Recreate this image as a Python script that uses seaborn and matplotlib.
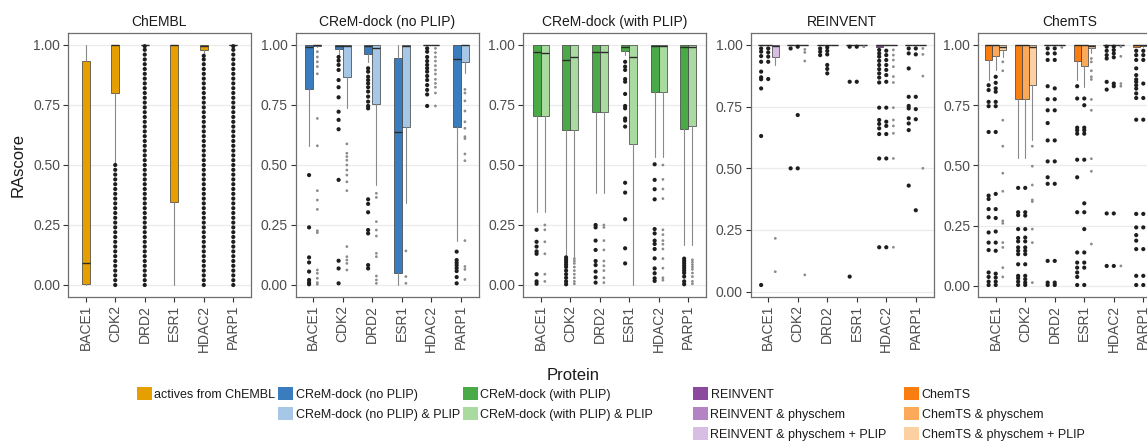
import matplotlib
matplotlib.use("Agg")
import matplotlib.pyplot as plt
import matplotlib.ticker as mticker
import pandas as pd
import seaborn as sns
from matplotlib.patches import Patch

proteins = ["BACE1", "CDK2", "DRD2", "ESR1", "HDAC2", "PARP1"]

# box stats per protein: (whisker low, q1, median, q3, whisker high)
chembl_box = [
    (0.0, 0.003, 0.09, 0.933, 1.0),
    (0.51, 0.80, 1.0, 1.0, 1.0),
    (1.0, 1.0, 1.0, 1.0, 1.0),
    (0.0, 0.344, 1.0, 1.0, 1.0),
    (0.965, 0.979, 0.997, 1.0, 1.0),
    (1.0, 1.0, 1.0, 1.0, 1.0),
]
chembl_out = [
    [],
    [0.00, 0.02, 0.04, 0.06, 0.08, 0.10, 0.12, 0.14, 0.16, 0.18, 0.20, 0.22, 0.24,
     0.26, 0.28, 0.30, 0.32, 0.34, 0.36, 0.38, 0.40, 0.42, 0.44, 0.46, 0.48, 0.50],
    [0.00, 0.02, 0.04, 0.06, 0.08, 0.10, 0.12, 0.14, 0.16, 0.18, 0.20, 0.22, 0.24,
     0.26, 0.28, 0.30, 0.32, 0.34, 0.36, 0.38, 0.40, 0.42, 0.44, 0.46, 0.48, 0.50,
     0.52, 0.54, 0.56, 0.58, 0.60, 0.62, 0.64, 0.66, 0.68, 0.70, 0.72, 0.74, 0.76,
     0.78, 0.80, 0.82, 0.84, 0.86, 0.88, 0.90, 0.92, 0.94, 0.96, 0.98, 0.995],
    [],
    [0.00, 0.02, 0.04, 0.06, 0.08, 0.10, 0.12, 0.14, 0.16, 0.18, 0.20, 0.22, 0.24,
     0.26, 0.28, 0.30, 0.32, 0.34, 0.36, 0.38, 0.40, 0.42, 0.44, 0.46, 0.48, 0.50,
     0.52, 0.54, 0.56, 0.58, 0.60, 0.62, 0.64, 0.66, 0.68, 0.70, 0.72, 0.74, 0.76,
     0.78, 0.80, 0.82, 0.84, 0.86, 0.88, 0.90, 0.92, 0.94, 0.955],
    [0.00, 0.02, 0.04, 0.06, 0.08, 0.10, 0.12, 0.14, 0.16, 0.18, 0.20, 0.22, 0.24,
     0.26, 0.28, 0.30, 0.32, 0.34, 0.36, 0.38, 0.40, 0.42, 0.44, 0.46, 0.48, 0.50,
     0.52, 0.54, 0.56, 0.58, 0.60, 0.62, 0.64, 0.66, 0.68, 0.70, 0.72, 0.74, 0.76,
     0.78, 0.80, 0.82, 0.84, 0.86, 0.88, 0.90, 0.92, 0.94, 0.96, 0.98, 0.995],
]

crem_nop_box = [
    (0.58, 0.815, 0.99, 1.0, 1.0),
    (0.958, 0.982, 0.997, 1.0, 1.0),
    (0.93, 0.962, 0.997, 1.0, 1.0),
    (0.0, 0.051, 0.636, 0.947, 1.0),
    (1.0, 1.0, 1.0, 1.0, 1.0),
    (0.185, 0.657, 0.94, 1.0, 1.0),
]
crem_nop_out = [
    [0.458, 0.24, 0.115, 0.094, 0.056, 0.021, 0.01, 0.003],
    [0.95, 0.935, 0.917, 0.896, 0.854, 0.824, 0.782, 0.722, 0.688, 0.649, 0.438, 0.101, 0.069, 0.007],
    [0.903, 0.889, 0.868, 0.854, 0.84, 0.824, 0.806, 0.785, 0.764, 0.746, 0.736, 0.357, 0.338,
     0.303, 0.229, 0.215, 0.083, 0.069],
    [],
    [0.986, 0.972, 0.95, 0.933, 0.917, 0.903, 0.889, 0.871, 0.854, 0.833, 0.813, 0.794, 0.746],
    [0.139, 0.104, 0.093, 0.082, 0.07, 0.058, 0.033, 0.007],
]
crem_nop_plip_box = [
    (0.99, 0.995, 1.0, 1.0, 1.0),
    (0.736, 0.868, 0.997, 1.0, 1.0),
    (0.417, 0.754, 0.986, 1.0, 1.0),
    (0.34, 0.66, 0.997, 1.0, 1.0),
    (1.0, 1.0, 1.0, 1.0, 1.0),
    (0.882, 0.928, 1.0, 1.0, 1.0),
]
crem_nop_plip_out = [
    [0.972, 0.95, 0.93, 0.91, 0.88, 0.694, 0.58, 0.393, 0.354, 0.315, 0.226, 0.218, 0.0625,
     0.049, 0.028, 0.01, 0.003],
    [0.588, 0.549, 0.535, 0.52, 0.5, 0.479, 0.458, 0.43, 0.393, 0.16, 0.118, 0.104, 0.09, 0.0625],
    [0.382, 0.365, 0.264, 0.229, 0.204, 0.132, 0.118, 0.0375, 0.021, 0.007],
    [0.142, 0.035, 0.007],
    [0.986, 0.968, 0.95, 0.933, 0.914, 0.896, 0.879, 0.857, 0.84, 0.824, 0.8, 0.746],
    [0.815, 0.8, 0.767, 0.725, 0.68, 0.653, 0.618, 0.61, 0.546, 0.518, 0.185, 0.077, 0.065, 0.023],
]

crem_wp_box = [
    (0.303, 0.704, 0.969, 1.0, 1.0),
    (0.118, 0.646, 0.938, 1.0, 1.0),
    (0.382, 0.722, 0.969, 1.0, 1.0),
    (0.958, 0.976, 0.993, 1.0, 1.0),
    (0.535, 0.806, 0.997, 1.0, 1.0),
    (0.167, 0.648, 0.99, 1.0, 1.0),
]
crem_wp_out = [
    [0.23, 0.18, 0.16, 0.14, 0.13, 0.045, 0.015, 0.005],
    [0.115, 0.105, 0.095, 0.085, 0.075, 0.06, 0.045, 0.03, 0.015, 0.003],
    [0.25, 0.24, 0.185, 0.146, 0.10, 0.083, 0.056, 0.032, 0.01],
    [0.93, 0.91, 0.896, 0.858, 0.847, 0.796, 0.746, 0.736, 0.694, 0.685, 0.66, 0.426, 0.385,
     0.274, 0.153, 0.09],
    [0.503, 0.438, 0.399, 0.357, 0.233, 0.215, 0.185, 0.171, 0.15, 0.111, 0.069, 0.049, 0.028, 0.017],
    [0.11, 0.10, 0.09, 0.08, 0.07, 0.06, 0.05, 0.035, 0.015, 0.003],
]
crem_wp_plip_box = [
    (0.303, 0.704, 0.965, 1.0, 1.0),
    (0.118, 0.646, 0.949, 1.0, 1.0),
    (0.382, 0.722, 0.969, 1.0, 1.0),
    (0.0, 0.586, 0.951, 1.0, 1.0),
    (0.535, 0.806, 0.997, 1.0, 1.0),
    (0.167, 0.663, 0.993, 1.0, 1.0),
]
crem_wp_plip_out = [
    [0.25, 0.23, 0.18, 0.13, 0.045, 0.015],
    [0.11, 0.10, 0.09, 0.075, 0.06, 0.045, 0.03, 0.015, 0.005],
    [0.25, 0.24, 0.185, 0.146, 0.10, 0.08, 0.06, 0.03, 0.01],
    [],
    [0.50, 0.44, 0.40, 0.36, 0.23, 0.21, 0.185, 0.17, 0.15, 0.11, 0.07, 0.03, 0.02],
    [0.105, 0.095, 0.085, 0.075, 0.065, 0.05, 0.035, 0.015, 0.005],
]

reinvent_box = [
    (1.0, 1.0, 1.0, 1.0, 1.0),
    (1.0, 1.0, 1.0, 1.0, 1.0),
    (1.0, 1.0, 1.0, 1.0, 1.0),
    (1.0, 1.0, 1.0, 1.0, 1.0),
    (0.99, 0.99, 1.0, 1.0, 1.0),
    (1.0, 1.0, 1.0, 1.0, 1.0),
]
reinvent_out = [
    [0.986, 0.973, 0.955, 0.932, 0.892, 0.869, 0.861, 0.824, 0.631, 0.027],
    [0.986, 0.5],
    [0.986, 0.973, 0.959],
    [0.993, 0.851, 0.061],
    [0.98, 0.966, 0.953, 0.936, 0.919, 0.902, 0.885, 0.868, 0.848, 0.746, 0.696, 0.68, 0.662,
     0.639, 0.54, 0.18],
    [0.986, 0.966, 0.905, 0.79, 0.753, 0.743, 0.703, 0.682, 0.655, 0.43],
]
reinvent_phys_box = [
    (1.0, 1.0, 1.0, 1.0, 1.0),
    (1.0, 1.0, 1.0, 1.0, 1.0),
    (1.0, 1.0, 1.0, 1.0, 1.0),
    (1.0, 1.0, 1.0, 1.0, 1.0),
    (1.0, 1.0, 1.0, 1.0, 1.0),
    (1.0, 1.0, 1.0, 1.0, 1.0),
]
reinvent_phys_out = [
    [0.986, 0.97, 0.953, 0.932, 0.862],
    [0.993, 0.716, 0.5],
    [0.99, 0.976, 0.962, 0.919, 0.903, 0.885],
    [0.993, 0.851],
    [0.977, 0.959, 0.939, 0.919, 0.899, 0.878, 0.851, 0.746, 0.689, 0.672, 0.639, 0.54, 0.18],
    [0.986, 0.962, 0.79, 0.74, 0.699, 0.33],
]
reinvent_phys_plip_box = [
    (0.919, 0.953, 0.996, 1.0, 1.0),
    (1.0, 1.0, 1.0, 1.0, 1.0),
    (1.0, 1.0, 1.0, 1.0, 1.0),
    (1.0, 1.0, 1.0, 1.0, 1.0),
    (1.0, 1.0, 1.0, 1.0, 1.0),
    (1.0, 1.0, 1.0, 1.0, 1.0),
]
reinvent_phys_plip_out = [
    [0.216, 0.081],
    [0.982, 0.97, 0.935, 0.068],
    [],
    [0.993],
    [0.98, 0.959, 0.939, 0.912, 0.872, 0.848, 0.746, 0.696, 0.672, 0.642, 0.54, 0.18],
    [0.986, 0.962, 0.874, 0.5],
]

chemts_box = [
    (0.854, 0.938, 1.0, 1.0, 1.0),
    (0.532, 0.774, 1.0, 1.0, 1.0),
    (1.0, 1.0, 1.0, 1.0, 1.0),
    (0.854, 0.933, 1.0, 1.0, 1.0),
    (1.0, 1.0, 1.0, 1.0, 1.0),
    (0.99, 0.993, 1.0, 1.0, 1.0),
]
chemts_out = [
    [0.833, 0.813, 0.764, 0.746, 0.639, 0.375, 0.361, 0.319, 0.285, 0.222, 0.18, 0.149, 0.056,
     0.0375, 0.018, 0.004],
    [0.407, 0.306, 0.294, 0.236, 0.199, 0.185, 0.16, 0.146, 0.132, 0.09, 0.042, 0.032, 0.018, 0.004],
    [0.986, 0.965, 0.938, 0.829, 0.775, 0.729, 0.676, 0.604, 0.517, 0.451, 0.424, 0.104, 0.014, 0.004],
    [0.829, 0.778, 0.657, 0.646, 0.632, 0.524, 0.451, 0.306, 0.139, 0.097, 0.076, 0.056, 0.0375, 0.004],
    [0.993, 0.976, 0.958, 0.944, 0.847, 0.815, 0.301, 0.083],
    [0.976, 0.958, 0.938, 0.903, 0.875, 0.857, 0.847, 0.833, 0.819, 0.799, 0.78, 0.69, 0.299,
     0.243, 0.211, 0.188, 0.153, 0.042, 0.004],
]
chemts_phys_box = [
    (0.896, 0.954, 1.0, 1.0, 1.0),
    (0.532, 0.774, 1.0, 1.0, 1.0),
    (1.0, 1.0, 1.0, 1.0, 1.0),
    (0.824, 0.913, 1.0, 1.0, 1.0),
    (1.0, 1.0, 1.0, 1.0, 1.0),
    (0.99, 0.995, 1.0, 1.0, 1.0),
]
chemts_phys_out = [
    [0.868, 0.843, 0.82, 0.806, 0.764, 0.746, 0.639, 0.382, 0.319, 0.282, 0.226, 0.18, 0.146,
     0.051, 0.035, 0.018, 0.004],
    [0.407, 0.306, 0.292, 0.236, 0.201, 0.185, 0.16, 0.146, 0.132, 0.09, 0.042, 0.028, 0.014, 0.004],
    [0.986, 0.965, 0.938, 0.82, 0.775, 0.729, 0.604, 0.517, 0.424, 0.104, 0.014, 0.004],
    [0.778, 0.75, 0.657, 0.646, 0.632, 0.524, 0.343, 0.306, 0.236, 0.139, 0.097, 0.076, 0.004],
    [0.993, 0.979, 0.965, 0.949, 0.84, 0.829, 0.301, 0.083],
    [0.976, 0.958, 0.938, 0.84, 0.78, 0.69, 0.299, 0.243, 0.153, 0.042, 0.004],
]
chemts_phys_plip_box = [
    (0.951, 0.979, 0.993, 1.0, 1.0),
    (0.604, 0.836, 0.993, 1.0, 1.0),
    (1.0, 1.0, 1.0, 1.0, 1.0),
    (0.965, 0.986, 0.996, 1.0, 1.0),
    (1.0, 1.0, 1.0, 1.0, 1.0),
    (1.0, 1.0, 1.0, 1.0, 1.0),
]
chemts_phys_plip_out = [
    [0.93, 0.893, 0.688, 0.58, 0.468, 0.393, 0.27, 0.26, 0.18, 0.16, 0.076, 0.0375],
    [0.58, 0.497, 0.419, 0.357, 0.35, 0.236, 0.18, 0.014],
    [0.99],
    [0.944, 0.93, 0.893, 0.868, 0.857, 0.774, 0.729, 0.528, 0.476, 0.174],
    [0.993, 0.953, 0.84, 0.829, 0.083],
    [],
]

colors = {
    "actives from ChEMBL": "#E69F00",
    "CReM-dock (no PLIP)": "#3A7DBF",
    "CReM-dock (no PLIP) & PLIP": "#A6C8E6",
    "CReM-dock (with PLIP)": "#4AAA47",
    "CReM-dock (with PLIP) & PLIP": "#A9DBA1",
    "REINVENT": "#8C479F",
    "REINVENT & physchem": "#B483C4",
    "REINVENT & physchem + PLIP": "#D8BEE2",
    "ChemTS": "#F97D0F",
    "ChemTS & physchem": "#FDA95A",
    "ChemTS & physchem + PLIP": "#FDD0A2",
}

panels = [
    ("ChEMBL", [("actives from ChEMBL", chembl_box, chembl_out)]),
    ("CReM-dock (no PLIP)", [("CReM-dock (no PLIP)", crem_nop_box, crem_nop_out),
                             ("CReM-dock (no PLIP) & PLIP", crem_nop_plip_box, crem_nop_plip_out)]),
    ("CReM-dock (with PLIP)", [("CReM-dock (with PLIP)", crem_wp_box, crem_wp_out),
                               ("CReM-dock (with PLIP) & PLIP", crem_wp_plip_box, crem_wp_plip_out)]),
    ("REINVENT", [("REINVENT", reinvent_box, reinvent_out),
                  ("REINVENT & physchem", reinvent_phys_box, reinvent_phys_out),
                  ("REINVENT & physchem + PLIP", reinvent_phys_plip_box, reinvent_phys_plip_out)]),
    ("ChemTS", [("ChemTS", chemts_box, chemts_out),
                ("ChemTS & physchem", chemts_phys_box, chemts_phys_out),
                ("ChemTS & physchem + PLIP", chemts_phys_plip_box, chemts_phys_plip_out)]),
]

sns.set_theme(style="white")
plt.rcParams["font.family"] = ["Liberation Sans", "DejaVu Sans"]

W, H = 1147, 441
fig = plt.figure(figsize=(W / 100, H / 100), dpi=100)
fig.patch.set_facecolor("white")

panel_left = [68, 295.5, 523, 750.5, 978]
panel_w, panel_top, panel_bottom = 183, 33, 297

for i, (title, groups) in enumerate(panels):
    ax = fig.add_axes([panel_left[i] / W, 1 - panel_bottom / H,
                       panel_w / W, (panel_bottom - panel_top) / H])
    n = len(groups)
    width = 0.28 if n < 3 else 0.24
    offsets = [(k - (n - 1) / 2) * width for k in range(n)]

    pts = []
    extent = []
    for k, (name, box, out) in enumerate(groups):
        pos = [j + offsets[k] for j in range(len(proteins))]
        stats = [dict(whislo=b[0], q1=b[1], med=b[2], q3=b[3], whishi=b[4], fliers=[])
                 for b in box]
        ax.bxp(stats, positions=pos, widths=width * 0.96, patch_artist=True,
               showcaps=False, showfliers=False, manage_ticks=False,
               boxprops=dict(facecolor=colors[name], edgecolor="#3a3a3a", linewidth=0.5),
               whiskerprops=dict(color="#8a8a8a", linewidth=0.8),
               medianprops=dict(color="#2b2b2b", linewidth=1.0))
        # outliers of the "+ PLIP" runs are drawn lighter
        kind = "light" if name.endswith("PLIP") and name != title else "dark"
        for j, vals in enumerate(out):
            for v in vals:
                pts.append({"x": pos[j], "RAscore": v, "kind": kind})
                extent.append(v)
        for b in box:
            extent.extend([b[0], b[4]])

    df = pd.DataFrame(pts)
    sns.scatterplot(data=df, x="x", y="RAscore", hue="kind", size="kind",
                    palette={"dark": "#1e1e1e", "light": "#8c8c8c"},
                    sizes={"dark": 9, "light": 4}, linewidth=0, legend=False, ax=ax, zorder=4)

    lo, hi = min(extent), max(extent)
    pad = 0.05 * (hi - lo)
    ax.set_ylim(lo - pad, hi + pad)
    ax.set_xlim(-0.6, len(proteins) - 0.4)

    ax.set_yticks([0, 0.25, 0.5, 0.75, 1.0])
    ax.yaxis.set_major_formatter(mticker.FormatStrFormatter("%.2f"))
    ax.set_xticks(range(len(proteins)))
    ax.set_xticklabels(proteins, rotation=90)
    ax.tick_params(axis="both", length=3.5, width=0.8, color="#333333",
                   labelsize=10, labelcolor="#4d4d4d", pad=2, left=True, bottom=True)
    ax.yaxis.grid(True, color="#ebebeb", linewidth=0.9)
    ax.xaxis.grid(False)
    ax.set_axisbelow(True)
    for sp in ax.spines.values():
        sp.set_color("#6e6e6e")
        sp.set_linewidth(0.9)
    ax.set_xlabel("")
    ax.set_ylabel("")
    ax.set_title(title, fontsize=10, color="#1a1a1a", pad=5)

fig.text(18 / W, 1 - 165 / H, "RAscore", rotation=90, ha="center", va="center",
         fontsize=12, color="#1a1a1a")
fig.text(573 / W, 1 - 375 / H, "Protein", ha="center", va="center",
         fontsize=12, color="#1a1a1a")

legend_cols = [
    (137, ["actives from ChEMBL"]),
    (278, ["CReM-dock (no PLIP)", "CReM-dock (no PLIP) & PLIP"]),
    (463, ["CReM-dock (with PLIP)", "CReM-dock (with PLIP) & PLIP"]),
    (693, ["REINVENT", "REINVENT & physchem", "REINVENT & physchem + PLIP"]),
    (904, ["ChemTS", "ChemTS & physchem", "ChemTS & physchem + PLIP"]),
]
for x, labels in legend_cols:
    handles = [Patch(facecolor=colors[l], edgecolor="none", label=l) for l in labels]
    leg = fig.legend(handles=handles, loc="upper left", bbox_to_anchor=(x / W, 1 - 387 / H),
                     frameon=False, fontsize=9, handlelength=1.2, handleheight=1.2,
                     handletextpad=0.2, labelspacing=0.52, borderpad=0, borderaxespad=0)
    for t in leg.get_texts():
        t.set_color("#1a1a1a")

fig.savefig("out.png", dpi=100, facecolor="white")
